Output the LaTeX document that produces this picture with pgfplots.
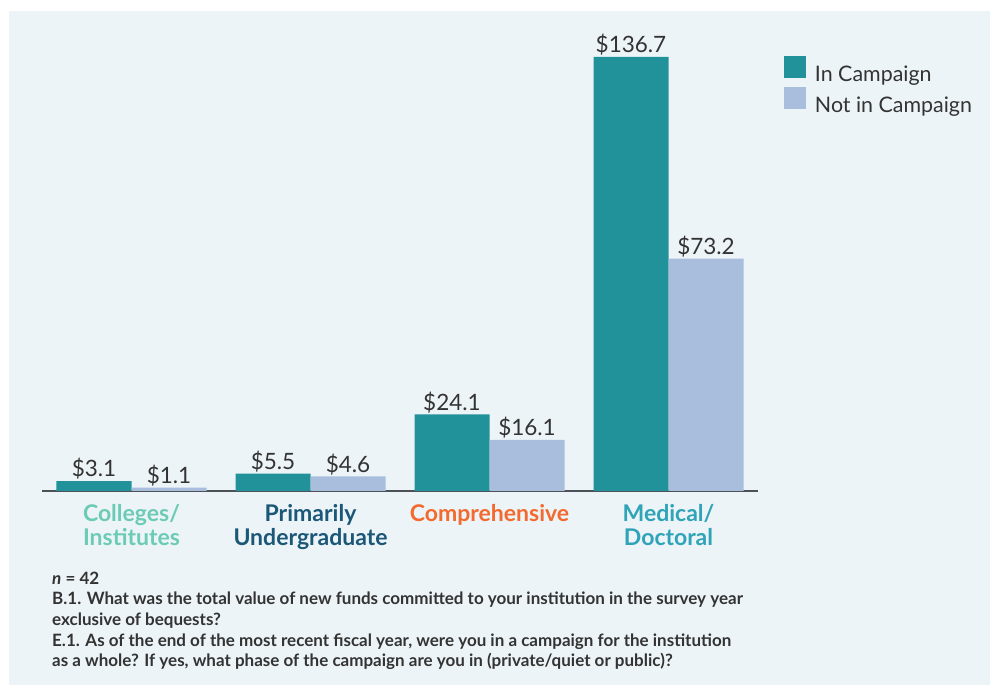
\documentclass[border=0pt]{standalone}
\usepackage{pgfplots}
\pgfplotsset{compat=1.18}
\usepackage{fontspec}
\setmainfont{Lato}
\definecolor{bgc}{HTML}{EDF4F8}
\definecolor{teal1}{HTML}{22929A}
\definecolor{lblue}{HTML}{A9BDDC}
\definecolor{txt}{HTML}{333333}
\definecolor{cA}{HTML}{6CCBB5}
\definecolor{cB}{HTML}{1B5777}
\definecolor{cC}{HTML}{F26A2E}
\definecolor{cD}{HTML}{2FA3B8}
\definecolor{axc}{HTML}{4D5258}
\begin{document}
\begin{tikzpicture}[x=1pt,y=1pt]
\fill[white] (0pt,0pt) rectangle (990pt,687pt);
\fill[bgc] (9pt,2pt) rectangle (990pt,676pt);
\begin{axis}[
  at={(42pt,196pt)}, anchor=south west,
  scale only axis, width=716pt, height=434pt,
  xmin=-0.5, xmax=3.5, ymin=0, ymax=136.7,
  axis y line=none, axis x line*=bottom,
  axis line style={axc, line width=1.5pt, -},
  ybar=0pt, bar width=75pt,
  xtick={0,1,2,3}, major tick length=0pt,
  xticklabels={{\textcolor{cA}{Colleges/}\\\textcolor{cA}{Institutes}},
                {\textcolor{cB}{Primarily}\\\textcolor{cB}{Undergraduate}},
                {\textcolor{cC}{Comprehensive}},
                {\textcolor{cD}{Medical/}\\\textcolor{cD}{Doctoral}}},
  xticklabel style={align=center, font=\fontsize{23}{24}\selectfont\bfseries, yshift=-10pt},
  /pgf/number format/assume math mode=true,
  nodes near coords={\$\pgfmathprintnumber[fixed,precision=1,fixed zerofill]{\pgfplotspointmeta}},
  nodes near coords style={font=\fontsize{22.5}{24}\selectfont, text=txt, yshift=-2pt},
  clip=false,
  legend style={at={(1.036,1.002)}, anchor=north west, draw=none, fill=none,
    font=\fontsize{21.4}{24}\selectfont, text=txt, row sep=2pt, inner sep=0pt},
  legend cell align=left,
  legend image code/.code={\fill[#1] (0pt,-3.5pt) rectangle (22pt,18.5pt); \path (29pt,0pt);},
]
\addplot[fill=teal1, draw=none] coordinates {(0,3.1) (1,5.5) (2,24.1) (3,136.7)};
\addplot[fill=lblue, draw=none] coordinates {(0,1.1) (1,4.6) (2,16.1) (3,73.2)};
\legend{In Campaign, Not in Campaign}
\end{axis}
\begin{scope}[every node/.style={anchor=base west, inner sep=0pt, text=txt, font=\fontsize{17}{20}\selectfont\bfseries}]
\node at (52pt,102pt) {\textit{n} = 42};
\node at (52pt,82pt) {B.1. What was the total value of new funds committed to your institution in the survey year};
\node at (52pt,61pt) {exclusive of bequests?};
\node at (52pt,40pt) {E.1. As of the end of the most recent fiscal year, were you in a campaign for the institution};
\node at (52pt,20pt) {as a whole? If yes, what phase of the campaign are you in (private/quiet or public)?};
\end{scope}
\end{tikzpicture}
\end{document}
